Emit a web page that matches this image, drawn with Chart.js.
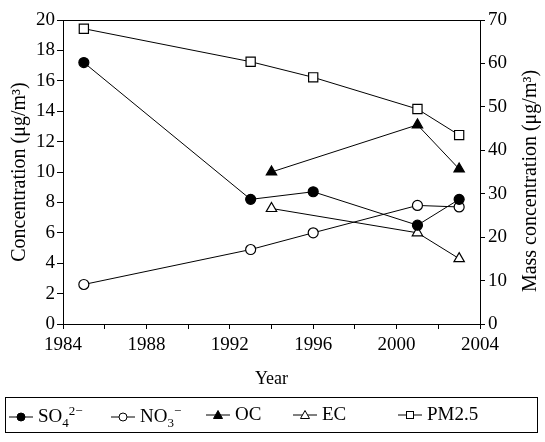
<!DOCTYPE html>
<html>
<head>
<meta charset="utf-8">
<script src="https://cdn.jsdelivr.net/npm/chart.js@4.4.1/dist/chart.umd.min.js"></script>
<style>
  body { margin: 0; background: #fff; }
  #wrap { position: relative; width: 545px; height: 442px; }
  #legend {
    position: absolute; left: 5px; top: 397px; width: 533px; height: 36px;
    border: 1px solid #000; box-sizing: border-box;
    font-family: "Liberation Serif", serif; font-size: 19px; color: #000;
  }
  #legend .item { position: absolute; top: 5px; white-space: nowrap; }
  #legend svg { vertical-align: middle; margin-right: 5px; position: relative; top: -1px; }
  #legend sub, #legend sup { font-size: 13px; }
</style>
</head>
<body>
<div id="wrap">
  <canvas id="chart" width="545" height="442"></canvas>
  <div id="legend"></div>
</div>
<script>
// data
const yearsMain = [1985, 1993, 1996, 2001, 2003];
const yearsCarbon = [1994, 2001, 2003];
const so4 = [17.2, 8.2, 8.7, 6.5, 8.2];
const no3 = [2.6, 4.9, 6.0, 7.8, 7.7];
const oc = [10.0, 13.1, 10.2];
const ec = [7.6, 6.0, 4.3];
const pm25 = [68.0, 60.4, 56.8, 49.5, 43.5];

const seriesNames = ["SO<sub>4</sub><sup>2\u2212</sup>", "NO<sub>3</sub><sup>\u2212</sup>", "OC", "EC", "PM2.5"];
const legendLeft = [3, 105, 200, 287, 392];
const rightTitle = "Mass concentration (\u03bcg/m\u00b3)";

const pts = (xs, ys) => xs.map((x, i) => ({ x: x, y: ys[i] }));
const font = { family: "Liberation Serif", size: 19 };
const titleFont = { family: "Liberation Serif", size: 20 };

function series(label, data, style, filled, r, axis) {
    return {
        label: label,
        data: data,
        yAxisID: axis || "y",
        borderColor: "#000",
        borderWidth: 1,
        pointStyle: style,
        pointRadius: r,
        pointHoverRadius: r,
        pointBorderColor: "#000",
        pointBorderWidth: 1.2,
        pointBackgroundColor: filled ? "#000" : "#fff",
        tension: 0
    };
}

// top frame line and right-hand title read bottom to top, like the left one
const extras = {
    id: "extras",
    afterDraw(chart) {
        const { ctx, chartArea } = chart;
        ctx.save();
        ctx.strokeStyle = "#000";
        ctx.lineWidth = 1;
        ctx.beginPath();
        ctx.moveTo(chartArea.left, chartArea.top + 0.5);
        ctx.lineTo(chartArea.right, chartArea.top + 0.5);
        ctx.stroke();

        const y1 = chart.scales.y1;
        ctx.translate(y1.right - 14, (chartArea.top + chartArea.bottom) / 2 + 9);
        ctx.rotate(-Math.PI / 2);
        ctx.fillStyle = "#000";
        ctx.font = titleFont.size + "px " + titleFont.family;
        ctx.textAlign = "center";
        ctx.textBaseline = "middle";
        ctx.fillText(rightTitle, 0, 0);
        ctx.restore();
    }
};

new Chart(document.getElementById("chart"), {
    type: "line",
    data: {
        datasets: [
            series("SO4", pts(yearsMain, so4), "circle", true, 5),
            series("NO3", pts(yearsMain, no3), "circle", false, 5),
            series("OC", pts(yearsCarbon, oc), "triangle", true, 6),
            series("EC", pts(yearsCarbon, ec), "triangle", false, 6),
            series("PM2.5", pts(yearsMain, pm25), "rect", false, 6.5, "y1")
        ]
    },
    options: {
        responsive: false,
        animation: false,
        layout: { padding: { top: 20, bottom: 52, left: 0, right: 0 } },
        plugins: { legend: { display: false }, tooltip: { enabled: false } },
        scales: {
            x: {
                type: "linear",
                min: 1984, max: 2004,
                ticks: {
                    stepSize: 2, color: "#000", font: font, maxRotation: 0, autoSkip: false, padding: 5,
                    callback: v => (v % 4 === 0 ? String(v) : "")
                },
                grid: { drawOnChartArea: false, color: "#000", tickLength: 5 },
                border: { color: "#000", width: 1 },
                title: { display: true, text: "Year", color: "#000", font: { family: "Liberation Serif", size: 18 }, padding: { top: 4, bottom: 0 } },
                afterFit: s => { s.height = 66; }
            },
            y: {
                position: "left",
                min: 0, max: 20,
                ticks: { stepSize: 2, color: "#000", font: font, padding: 2 },
                grid: { drawOnChartArea: false, color: "#000", tickLength: 6 },
                border: { color: "#000", width: 1 },
                title: { display: true, text: "Concentration (\u03bcg/m\u00b3)", color: "#000", font: titleFont, padding: { top: 8, bottom: 0 } },
                afterFit: s => { s.width = 63; }
            },
            y1: {
                position: "right",
                min: 0, max: 70,
                ticks: { stepSize: 10, color: "#000", font: font, padding: 3 },
                grid: { drawOnChartArea: false, color: "#000", tickLength: 5 },
                border: { color: "#000", width: 1 },
                afterFit: s => { s.width = 65; }
            }
        }
    },
    plugins: [extras]
});

// legend with line-through-marker icons
function icon(i) {
    const dark = i === 0 || i === 2;
    const fill = dark ? "#000" : "#fff";
    let mark;
    if (i < 2) mark = `<circle cx="12" cy="7" r="4" fill="${fill}" stroke="#000"/>`;
    else if (i < 4) mark = `<polygon points="12,2.5 16.5,10.5 7.5,10.5" fill="${fill}" stroke="#000"/>`;
    else mark = `<rect x="8.5" y="3.5" width="7" height="7" fill="#fff" stroke="#000"/>`;
    return `<svg width="24" height="14"><line x1="0" y1="7" x2="24" y2="7" stroke="#000"/>${mark}</svg>`;
}
const legend = document.getElementById("legend");
seriesNames.forEach((name, i) => {
    const el = document.createElement("span");
    el.className = "item";
    el.style.left = legendLeft[i] + "px";
    el.innerHTML = icon(i) + name;
    legend.appendChild(el);
});
</script>
</body>
</html>
